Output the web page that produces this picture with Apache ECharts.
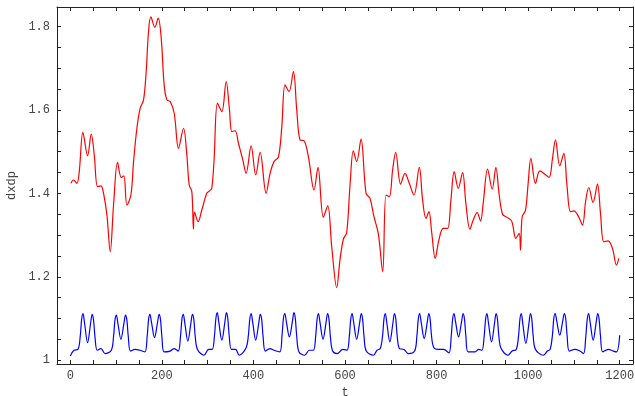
<!DOCTYPE html>
<html><head><meta charset="utf-8">
<script src="https://cdn.jsdelivr.net/npm/echarts@6/dist/echarts.min.js"></script>
<style>html,body{margin:0;padding:0;background:#fff}#c{width:635px;height:396px}</style>
</head><body><div id="c"></div>
<script>
const redT = [1.5,7,14.5,19.6,27.6,37.8,45.8,52.4,59.6,67,72.7,80,87.3,94.5,103.3,111.3,117.1,123.7,132.4,138.2,145.5,152.7,160,165.8,170.9,176,184.7,192,198.6,205,211,218.2,227,236.4,247.3,254.6,259.7,265.5,269,271.3,279.3,287.3,298,304,309,314,321.5,331,340.4,347.7,352.8,360,367.3,376.8,384,395,405,414.6,427.7,436.4,445,454.6,462,469,477.8,487.3,494.6,501.9,510.6,520,532.4,541,552.7,562.3,571,581.9,589,596.4,603.7,611,618.2,625.5,635,645.9,654.6,663.3,672.7,682.3,689.5,696.8,704,710.7,721.5,731,740.4,750.6,762.2,769.5,776.8,783.3,789.2,797,805,814.5,824,831.3,838.5,847.3,856.8,864,872.8,880,888.7,896,901.8,911.4,921.5,929.5,936.8,944.1,952.9,963.8,973.2,980.4,983.3,986.9,994.3,1000,1006,1016,1025.5,1036.4,1045.8,1053.2,1059.7,1069,1077.9,1085,1092.4,1099.7,1110.6,1118.6,1125.9,1132.4,1141.8,1151.4,1158,1165.2,1174.6,1184.1,1192.9,1198];
const redV = [1.424,1.432,1.424,1.452,1.546,1.490,1.542,1.492,1.416,1.418,1.400,1.348,1.260,1.372,1.474,1.438,1.442,1.372,1.396,1.476,1.556,1.604,1.624,1.692,1.788,1.823,1.798,1.820,1.772,1.660,1.624,1.620,1.592,1.508,1.556,1.492,1.420,1.404,1.314,1.355,1.332,1.360,1.400,1.406,1.412,1.480,1.616,1.596,1.668,1.600,1.548,1.550,1.520,1.480,1.448,1.514,1.444,1.498,1.400,1.448,1.476,1.487,1.560,1.660,1.644,1.692,1.600,1.528,1.526,1.488,1.408,1.462,1.343,1.370,1.272,1.174,1.240,1.290,1.306,1.420,1.502,1.476,1.530,1.400,1.388,1.344,1.304,1.212,1.396,1.392,1.456,1.498,1.422,1.448,1.424,1.396,1.462,1.384,1.340,1.356,1.308,1.244,1.288,1.316,1.316,1.384,1.452,1.412,1.450,1.376,1.314,1.336,1.354,1.334,1.376,1.458,1.410,1.462,1.396,1.350,1.343,1.334,1.292,1.304,1.264,1.344,1.360,1.424,1.484,1.424,1.454,1.446,1.438,1.484,1.528,1.466,1.496,1.416,1.356,1.358,1.343,1.324,1.384,1.414,1.378,1.422,1.352,1.284,1.286,1.268,1.228,1.244];

const blueT = [0,8,
 16.8,21.8,24.8,27.8,31.3,37.8,44.3,47.8,50.8,53.8,58.8, 67,76,
 89.6,94.6,97.6,100.6,104.1,110.6,117.1,120.6,123.6,126.6,131.6, 142,152,
 163,168,171,174,177.5,184,190.5,194,197,200,205, 218,227,
 235.8,240.8,243.8,246.8,250.3,256.8,263.3,266.8,269.8,272.8,277.8, 292,302,
 310,315,318,321,324.5,331,337.5,341,344,347,352, 361,369,
 384,389,392,395,398.5,405,411.5,415,418,421,426, 436,445,
 457.5,462.5,465.5,468.5,472,478.5,485,488.5,491.5,494.5,499.5, 512,522,
 531,536,539,542,545.5,552,558.5,562,565,568,573, 583,595,
 604.5,609.5,612.5,615.5,619,625.5,632,635.5,638.5,641.5,646.5, 662,670,
 677,682,685,688,691.5,698,704.5,708,711,714,719, 729,738,
 752,757,760,763,766.5,773,779.5,783,786,789,794, 804,815,
 827,832,835,838,841.5,848,854.5,858,861,864,869, 884,892,
 899,904,907,910,913.5,920,926.5,930,933,936,941, 956,965,
 974,979,982,985,988.5,995,1001.5,1005,1008,1011,1016, 1033,1042,
 1048,1053,1056,1059,1062.5,1069,1075.5,1079,1082,1085,1090, 1102,1113,
 1121,1126,1129,1132,1135.5,1142,1148.5,1152,1155,1158,1163, 1175,1186,1193,1200];
const blueV = [1.010,1.024,
 1.026,1.058,1.098,1.112,1.088,1.042,1.088,1.110,1.096,1.058,1.024, 1.028,1.016,
 1.024,1.058,1.096,1.108,1.088,1.050,1.088,1.108,1.096,1.058,1.022, 1.026,1.024,
 1.020,1.058,1.098,1.110,1.090,1.054,1.090,1.110,1.098,1.058,1.020, 1.022,1.028,
 1.022,1.058,1.098,1.110,1.088,1.046,1.088,1.110,1.098,1.058,1.026, 1.012,1.026,
 1.026,1.060,1.100,1.114,1.090,1.048,1.090,1.114,1.100,1.060,1.026, 1.026,1.012,
 1.030,1.060,1.098,1.112,1.090,1.048,1.088,1.110,1.098,1.058,1.022, 1.028,1.024,
 1.020,1.060,1.100,1.112,1.092,1.056,1.092,1.114,1.100,1.058,1.020, 1.012,1.024,
 1.024,1.058,1.098,1.112,1.090,1.050,1.090,1.112,1.098,1.058,1.022, 1.016,1.026,
 1.024,1.058,1.098,1.112,1.090,1.050,1.090,1.112,1.098,1.058,1.022, 1.012,1.024,
 1.028,1.058,1.098,1.112,1.088,1.044,1.088,1.112,1.098,1.058,1.028, 1.026,1.016,
 1.022,1.058,1.098,1.112,1.090,1.052,1.090,1.112,1.098,1.058,1.030, 1.026,1.026,
 1.018,1.058,1.098,1.112,1.092,1.056,1.092,1.112,1.098,1.058,1.020, 1.020,1.026,
 1.024,1.058,1.098,1.112,1.088,1.044,1.088,1.112,1.098,1.058,1.028, 1.012,1.022,
 1.026,1.058,1.098,1.112,1.086,1.040,1.086,1.112,1.098,1.058,1.026, 1.012,1.022,
 1.026,1.060,1.100,1.112,1.094,1.060,1.094,1.112,1.100,1.060,1.022, 1.026,1.022,
 1.016,1.058,1.098,1.112,1.090,1.048,1.090,1.112,1.098,1.058,1.020, 1.026,1.022,1.020,1.060];

const xLabels = [0,200,400,600,800,1000,1200];
const xTicks = [0,50,100,150,200,250,300,350,400,450,500,550,600,650,700,750,800,850,900,950,1000,1050,1100,1150,1200];
const yLabels = [1,1.2,1.4,1.6,1.8];
const yTicks = [1,1.05,1.1,1.15,1.2,1.25,1.3,1.35,1.4,1.45,1.5,1.55,1.6,1.65,1.7,1.75,1.8];

const X_MIN = -29, X_MAX = 1229, Y_MIN = 0.991, Y_MAX = 1.8466;
const font = 'Liberation Mono';
const zip = (a, b) => a.map((v, i) => [v, b[i]]);

const chart = echarts.init(document.getElementById('c'), null, {renderer: 'canvas'});
const lineStyle = {color: '#222', width: 1};
const tickStyle = {color: '#222', width: 1};
const txt = {color: '#444', fontFamily: font, fontSize: 12};
chart.setOption({
  animation: false,
  backgroundColor: '#fff',
  grid: {left: 57, right: 2, top: 7, bottom: 32, containLabel: false, outerBoundsMode: 'none'},
  xAxis: [
    {type: 'value', position: 'bottom', min: X_MIN, max: X_MAX,
     axisLine: {show: true, onZero: false, lineStyle: lineStyle},
     axisTick: {show: true, inside: true, length: 4, lineStyle: tickStyle, customValues: xTicks},
     axisLabel: Object.assign({show: true, customValues: xLabels, margin: 6, formatter: v => String(Math.round(v))}, txt),
     splitLine: {show: false},
     name: 't', nameLocation: 'middle', nameGap: 20, nameTextStyle: txt},
    {type: 'value', position: 'top', min: X_MIN, max: X_MAX,
     axisLine: {show: true, onZero: false, lineStyle: lineStyle},
     axisTick: {show: true, inside: true, length: 4, lineStyle: tickStyle, customValues: xTicks},
     axisLabel: {show: false}, splitLine: {show: false}}
  ],
  yAxis: [
    {type: 'value', position: 'left', min: Y_MIN, max: Y_MAX,
     axisLine: {show: true, onZero: false, lineStyle: lineStyle},
     axisTick: {show: true, inside: true, length: 4, lineStyle: tickStyle, customValues: yTicks},
     axisLabel: Object.assign({show: true, customValues: yLabels, margin: 7,
       formatter: v => (Math.abs(v - 1) < 1e-9 ? '1' : v.toFixed(1))}, txt),
     splitLine: {show: false},
     name: 'dxdp', nameLocation: 'middle', nameGap: 38, nameRotate: 90, nameTextStyle: txt},
    {type: 'value', position: 'right', min: Y_MIN, max: Y_MAX,
     axisLine: {show: true, onZero: false, lineStyle: lineStyle},
     axisTick: {show: true, inside: true, length: 4, lineStyle: tickStyle, customValues: yTicks},
     axisLabel: {show: false}, splitLine: {show: false}}
  ],
  series: [
    {type: 'line', name: 'red', data: zip(redT, redV), xAxisIndex: 0, yAxisIndex: 0,
     showSymbol: false, smooth: 0.35, lineStyle: {color: '#ff0000', width: 1.2}},
    {type: 'line', name: 'blue', data: zip(blueT, blueV), xAxisIndex: 0, yAxisIndex: 0,
     showSymbol: false, smooth: 0.35, lineStyle: {color: '#0000ff', width: 1.2}}
  ]
});
</script></body></html>
